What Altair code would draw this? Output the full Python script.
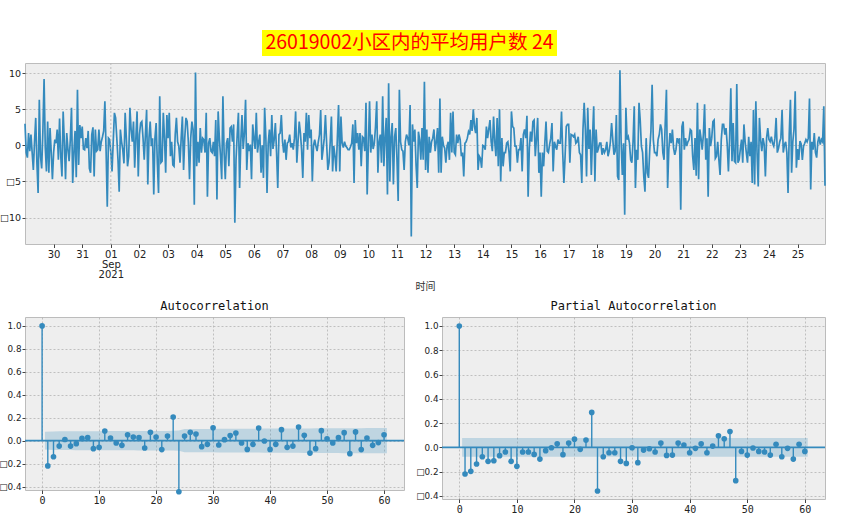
import altair as alt
import pandas as pd

TITLE = "26019002小区内的平均用户数 24"
X_TITLE = "时间"
ACF_TITLE = "Autocorrelation"
PACF_TITLE = "Partial Autocorrelation"
BLUE = "#348ABD"

# hourly values, one list per day (starting 2021-08-29 00:00)
d0829 = [3.0, -1.0, -1.7, 1.7, -0.8, 1.5, -1.0, -3.4, 0.5, 3.8, -2.5, -6.6, 6.3, -1.5, -3.2, 2.0, 9.2, -0.3, -3.6, 3.3, -3.8, 2.4, -1.0, -4.7]
d0830 = [-1.0, 0.8, 0.3, 2.2, -2.0, 3.7, -1.5, -4.3, 4.7, 0.5, -4.7, 1.7, -0.5, -2.2, 0.8, 5.2, -5.2, -1.0, 2.0, -4.4, 7.7, -2.7, 2.8, 1.0]
d0831 = [2.6, -0.5, -0.6, 1.0, -0.4, 2.0, -3.2, -3.8, 1.5, 2.5, -4.3, 2.2, -0.8, -0.6, 2.2, -0.8, 0.5, 1.2, 2.0, 6.1, -0.6, -8.5, 1.0, 0.8]
d0901 = [-1.0, -3.6, 0.5, 4.5, 3.8, 1.0, -2.0, -6.4, 2.2, 0.5, -0.6, -2.5, 4.5, 1.0, -2.9, -1.5, 5.2, 2.2, 0.5, 3.3, -3.1, 1.0, 4.7, -4.3]
d0902 = [1.5, 3.1, 3.3, 1.0, -2.0, 1.5, 4.9, -5.4, 1.0, 3.3, -0.1, 1.0, -6.8, 1.0, 3.1, -2.4, -6.6, 6.8, -2.4, -2.2, 4.5, 1.0, -3.8, 4.2]
d0903 = [1.0, 4.5, -1.5, 0.5, -2.7, -2.9, 1.5, 3.8, 0.5, -0.1, -2.4, 1.0, 4.0, -3.4, 1.0, 3.8, 3.3, 0.5, -4.7, 1.0, 3.3, 2.2, -8.2, 10.1]
d0904 = [-2.9, 0.5, -2.4, 2.4, -1.0, 1.0, 0.8, -1.0, 4.5, -7.1, 0.3, 1.0, -0.8, -1.0, 0.5, -1.5, 3.5, -7.5, 4.7, 1.0, -1.5, -4.7, 6.8, -1.0]
d0905 = [-4.7, 0.3, 1.0, -2.9, 2.4, 2.6, 0.5, 2.9, -10.7, -2.0, 1.5, 4.5, -5.9, 0.5, 4.2, -0.5, 1.7, 6.3, -3.4, 0.3, -0.8, 0.1, -4.7, 2.9]
d0906 = [1.0, -0.5, 4.5, -1.0, 0.5, 1.5, -3.8, 0.0, -4.5, 5.2, 1.2, -6.6, 0.3, 2.2, -1.5, 4.2, -0.5, 0.8, 3.1, -1.0, -5.9, 1.5, 1.7, 4.2]
d0907 = [0.5, -1.0, 0.8, -2.0, 0.3, 0.5, 1.5, -0.3, 0.3, -0.6, 1.0, 4.7, -2.4, 0.5, 3.3, 1.7, -0.6, -4.5, 1.7, 0.5, 4.5, -0.6, 4.2, 1.0]
d0908 = [2.2, -5.0, 0.0, 0.8, -0.1, -0.8, 0.5, 1.5, 4.9, -2.0, -0.6, 1.0, 4.2, 0.3, -3.4, -2.4, 0.5, 4.0, -3.6, -0.1, -1.5, -3.6, 1.0, 5.6]
d0909 = [-3.6, 4.0, 0.3, -0.3, 0.5, -0.1, -0.3, -0.6, -0.6, -0.2, 0.3, 2.9, -5.2, 3.5, 0.3, 1.7, -0.6, 1.7, -2.9, 1.2, 1.0, -0.8, 5.9, -6.8]
d0910 = [-0.1, 6.1, -1.0, 1.5, -0.5, 0.3, 2.6, 6.1, -3.8, 0.5, 1.5, -2.4, 6.8, -2.9, 1.0, 3.8, -6.8, 8.6, -5.0, 1.2, 3.1, -5.4, 1.2, 2.4]
d0911 = [-2.0, -7.7, 7.7, 0.5, -0.6, -0.8, -3.4, 0.5, 1.5, 1.0, 0.0, 5.6, -12.6, 2.9, 0.5, 2.2, -2.7, -5.9, 1.9, 0.8, -2.0, 2.4, -2.0, 8.8]
d0912 = [-3.4, 2.2, -3.8, 1.2, -1.0, 0.5, 1.0, 2.2, -0.8, 0.5, 2.4, -3.8, 6.5, -3.8, 1.2, 0.0, -0.4, -2.4, -0.1, 0.5, -2.0, 4.5, -1.0, 4.7]
d0913 = [-1.0, -1.3, 1.5, 0.3, 1.5, 0.8, -1.5, -1.0, -4.3, 0.3, 0.5, 1.0, 1.9, 1.5, 3.5, 2.0, 5.0, 2.6, 1.7, 3.8, -3.4, -1.5, -1.8, -3.1]
d0914 = [0.0, -0.1, -0.6, 2.6, 1.0, 2.2, 3.5, 0.5, -0.8, 4.0, 0.5, -1.5, 3.8, -2.9, 5.0, -5.0, 1.0, -2.9, -1.0, -1.0, 0.3, 0.5, -1.0, -3.6]
d0915 = [4.7, 2.6, 2.4, -0.1, -0.1, -2.4, -0.6, -0.6, 1.0, -3.6, 1.5, 2.2, 1.0, 4.1, -7.1, -0.4, 1.9, 0.5, 3.3, 3.5, -1.5, 1.0, 3.8, -3.8]
d0916 = [-1.0, -7.1, -1.0, -2.9, 0.3, 3.3, -0.8, -1.0, 0.1, 1.0, 3.1, -3.6, 0.5, -0.1, -0.6, 0.8, 0.3, 0.3, 4.7, -1.0, -5.2, -1.5, 2.6, 2.9]
d0917 = [2.9, -2.4, 1.5, 1.4, 1.2, 1.5, 0.3, 0.5, 1.2, -1.0, -1.3, -5.2, 2.2, 5.9, 2.2, -4.3, 5.2, -0.5, 2.2, -4.1, 1.0, 5.4, -5.0, 2.2]
d0918 = [-1.0, -0.4, 0.3, 0.3, -1.3, -0.4, -1.0, -0.6, 0.5, -1.5, -0.8, 0.5, 3.1, 0.8, -1.3, -0.8, 4.2, -4.3, -4.8, 10.4, 0.5, -4.1, 0.3, -9.6]
d0919 = [5.2, 0.8, 1.2, 0.3, -2.0, -2.4, 0.5, 5.4, -5.9, -0.6, -2.0, 5.9, 3.5, -0.1, -1.0, -4.3, -6.4, 1.0, -3.8, -4.5, -0.6, 2.0, 8.4, 0.8]
d0920 = [-1.0, -1.0, -1.5, 0.8, 1.5, 2.9, 2.2, -1.0, -2.0, 3.1, 7.7, -5.9, -0.6, 1.7, 0.3, 2.2, -0.4, -1.3, -0.6, 1.0, 0.5, 1.0, -8.9, 2.6]
d0921 = [3.3, -0.6, 1.0, -0.1, 0.5, 0.8, 2.2, 2.0, -1.5, -3.4, 1.0, -4.2, 5.9, -4.7, 2.2, 1.0, -0.6, 1.5, 5.7, -2.0, 1.0, -7.1, 2.4, -0.1]
d0922 = [1.0, 3.3, 3.5, -1.8, -1.5, 0.5, -2.0, -4.1, 0.8, 2.9, 2.9, 1.5, 2.4, 0.1, -3.6, 1.0, 7.9, -2.2, 3.1, -2.2, -2.4, 8.5, -2.4, -2.0]
d0923 = [-0.5, 0.8, -2.4, 2.9, 0.5, -1.0, -2.4, 1.2, -1.5, 0.5, -5.2, 4.9, -5.4, 6.1, -1.0, -5.7, 3.8, 0.8, -0.8, 1.0, 0.1, -4.3, 1.0, 2.4]
d0924 = [0.8, 0.5, 1.2, 0.3, -0.1, 1.0, 3.8, -1.0, -0.4, 0.5, 1.0, 4.9, -1.0, 0.1, 0.5, -1.0, -6.6, 1.5, 6.3, -3.8, 0.5, 2.2, 7.5, -3.1]
d0925 = [-0.5, -2.0, 0.6, 0.2, -2.0, -0.1, 0.3, 0.8, 0.5, 1.0, 6.5, -6.1, 0.5, -0.6, 1.7, -1.0, -1.7, 0.5, 1.2, 0.1, 0.8, 0.5, 5.4, -5.6]

hourly = (d0829 + d0830 + d0831 + d0901 + d0902 + d0903 + d0904 + d0905 + d0906 + d0907
          + d0908 + d0909 + d0910 + d0911 + d0912 + d0913 + d0914 + d0915 + d0916 + d0917
          + d0918 + d0919 + d0920 + d0921 + d0922 + d0923 + d0924 + d0925)

# autocorrelation (lags 0..60)
acf_values = [1.0, -0.22, -0.14, -0.047, 0.01, -0.047, -0.026, 0.02, 0.026, -0.07, -0.058,
              0.084, 0.023, -0.02, -0.041, 0.052, 0.032, 0.026, -0.064, 0.073, 0.032,
              -0.078, 0.041, 0.206, -0.445, 0.041, 0.073, 0.058, -0.052, -0.032, 0.113,
              -0.038, 0.009, 0.044, 0.067, -0.02, -0.076, -0.032, 0.11, -0.003, -0.076,
              -0.032, 0.096, -0.058, -0.047, 0.119, 0.047, -0.108, -0.07, 0.087, 0.017,
              -0.02, 0.026, 0.07, -0.113, 0.076, -0.078, 0.023, -0.041, -0.017, 0.052]
# confidence half-width of the acf (lags 1..60)
acf_conf = [0.077, 0.081, 0.082, 0.082, 0.082, 0.083, 0.083, 0.083, 0.083, 0.083, 0.084, 0.084,
            0.084, 0.084, 0.084, 0.084, 0.085, 0.085, 0.085, 0.085, 0.085, 0.085, 0.086, 0.088,
            0.101, 0.101, 0.101, 0.102, 0.102, 0.102, 0.103, 0.103, 0.103, 0.103, 0.103, 0.104,
            0.104, 0.104, 0.105, 0.105, 0.105, 0.105, 0.106, 0.106, 0.106, 0.107, 0.107, 0.108,
            0.108, 0.108, 0.108, 0.108, 0.109, 0.109, 0.109, 0.109, 0.110, 0.110, 0.110, 0.110]

# partial autocorrelation (lags 0..60)
pacf_values = [1.0, -0.219, -0.197, -0.137, -0.077, -0.115, -0.11, -0.068, -0.038, -0.115, -0.156,
               -0.038, -0.038, -0.058, -0.096, -0.027, -0.003, 0.03, -0.06, 0.036, 0.068,
               -0.016, 0.06, 0.288, -0.359, -0.077, -0.044, -0.044, -0.115, -0.132, -0.003,
               -0.126, -0.022, -0.011, -0.038, 0.036, -0.066, -0.063, 0.036, 0.019, -0.044,
               -0.008, 0.03, -0.044, 0.011, 0.096, 0.071, 0.131, -0.274, -0.033, -0.063,
               -0.005, -0.033, -0.038, -0.063, 0.025, -0.077, -0.008, -0.096, 0.025, -0.033]
pacf_halfwidth = 0.077

lags = list(range(len(acf_values)))

# ---------------- top: time series ----------------
ts = pd.DataFrame({
    "time": pd.date_range("2021-08-29 00:00", periods=len(hourly), freq="h").strftime("%Y-%m-%dT%H:%M:%S"),
    "value": hourly,
})
tick_dates = [alt.DateTime(year=2021, month=8, date=d) for d in (30, 31)] + \
             [alt.DateTime(year=2021, month=9, date=d) for d in range(1, 26)]
month_start = pd.DataFrame({"time": ["2021-09-01T00:00:00"]})

x_top = alt.X(
    "time:T",
    scale=alt.Scale(nice=False, padding=0),
    axis=alt.Axis(
        values=tick_dates,
        labelExpr="date(datum.value) == 1 ? [timeFormat(datum.value, '%d'), timeFormat(datum.value, '%b'), timeFormat(datum.value, '%Y')] : timeFormat(datum.value, '%d')",
        labelAngle=0, labelOverlap=False, labelFlush=False, labelLineHeight=10,
        labelBound=False, grid=False, title=X_TITLE, titleFont="Noto Sans CJK SC", titleFontSize=10,
        titleFontWeight="normal", titleColor="#333333", titlePadding=2,
        labelFont="DejaVu Sans", labelFontSize=10, labelPadding=2, tickSize=3.5,
    ),
)
y_top = alt.Y(
    "value:Q",
    scale=alt.Scale(domain=[-13.65, 11.4], nice=False, zero=False),
    axis=alt.Axis(values=[-10, -5, 0, 5, 10],
                  labelExpr="datum.value < 0 ? '\u25a1' + abs(datum.value) : '' + datum.value",
                  title=None, labelFont="DejaVu Sans", labelFontSize=9.5, tickSize=3, labelPadding=1.5),
)

line = alt.Chart(ts).mark_line(color=BLUE, strokeWidth=1.7).encode(x=x_top, y=y_top)
vgrid = alt.Chart(month_start).mark_rule(color="#B2B2B2", strokeDash=[2, 2], strokeWidth=0.8).encode(
    x=x_top)

title_df = pd.DataFrame({"text": [TITLE]})
title_box = alt.Chart(title_df).mark_rect(color="#FFFF00").encode(
    x=alt.value(237), x2=alt.value(532), y=alt.value(-33), y2=alt.value(-7))
title_txt = alt.Chart(title_df).mark_text(
    color="#FF0000", font="Noto Sans CJK SC", fontSize=19.5, align="center", baseline="middle"
).encode(x=alt.value(384.5), y=alt.value(-20.5), text="text:N")

top = alt.layer(line, vgrid, title_box, title_txt).properties(width=800, height=181)


# ---------------- bottom: acf / pacf ----------------
def band_frame(halfwidths):
    bx = [float(v) for v in lags[1:]]
    bx[0] -= 0.5
    bx[-1] += 0.5
    return pd.DataFrame({"lag": bx, "lo": [-w for w in halfwidths], "hi": list(halfwidths)})


def corr_panel(values, band_df, title, width, height, ydom):
    df = pd.DataFrame({"lag": lags, "value": values})
    xs = alt.Scale(domain=[-3, 63.5], nice=False, zero=False)
    ys = alt.Scale(domain=ydom, nice=False, zero=False)
    xa = alt.Axis(values=[0, 10, 20, 30, 40, 50, 60], title=None, labelFont="DejaVu Sans Mono",
                  labelFontSize=10, labelFlush=False, grid=True, tickSize=3.5, labelPadding=2)
    ya = alt.Axis(values=[-0.4, -0.2, 0.0, 0.2, 0.4, 0.6, 0.8, 1.0], title=None,
                  labelExpr="datum.value < 0 ? '\u25a1' + format(abs(datum.value), '.1f') : format(datum.value, '.1f')",
                  labelFont="DejaVu Sans", labelFontSize=8.8, grid=True, tickSize=3, labelPadding=1)
    band = alt.Chart(band_df).mark_area(color=BLUE, opacity=0.25).encode(
        x=alt.X("lag:Q", scale=xs, axis=xa),
        y=alt.Y("lo:Q", scale=ys, axis=ya),
        y2="hi:Q",
    )
    zero = alt.Chart(pd.DataFrame({"zero": [0.0]})).mark_rule(color=BLUE, strokeWidth=1.6).encode(
        y=alt.Y("zero:Q", scale=ys, axis=ya))
    stems = alt.Chart(df).mark_rule(color=BLUE, strokeWidth=1.4).encode(
        x=alt.X("lag:Q", scale=xs, axis=xa),
        y=alt.Y("value:Q", scale=ys, axis=ya),
        y2=alt.datum(0),
    )
    pts = alt.Chart(df).mark_circle(color=BLUE, size=32, opacity=1).encode(
        x=alt.X("lag:Q", scale=xs, axis=xa),
        y=alt.Y("value:Q", scale=ys, axis=ya),
    )
    return alt.layer(band, zero, stems, pts).properties(
        width=width, height=height,
        title=alt.TitleParams(title, font="DejaVu Sans Mono", fontSize=12, fontWeight="normal",
                              color="#111111", offset=4),
    )


acf = corr_panel(acf_values, band_frame(acf_conf), ACF_TITLE, 379, 173, [-0.43, 1.078])
pacf = corr_panel(pacf_values, band_frame([pacf_halfwidth] * (len(lags) - 1)), PACF_TITLE, 383, 182,
                  [-0.425, 1.074])

bottom = alt.hconcat(acf, pacf, spacing=38, bounds="flush")

chart = alt.vconcat(top, bottom, spacing=73, bounds="flush").properties(
    padding={"left": -2, "top": 29, "right": 0, "bottom": 0},
    background="white",
).configure_view(
    stroke="#BCBCBC", fill="#EEEEEE", strokeWidth=1,
).configure_axis(
    domain=False, tickColor="#444444", labelColor="#222222",
    gridColor="#B2B2B2", gridDash=[2, 2], gridWidth=0.8,
)

chart.save("out.html", embed_options={"renderer": "svg", "actions": False})
